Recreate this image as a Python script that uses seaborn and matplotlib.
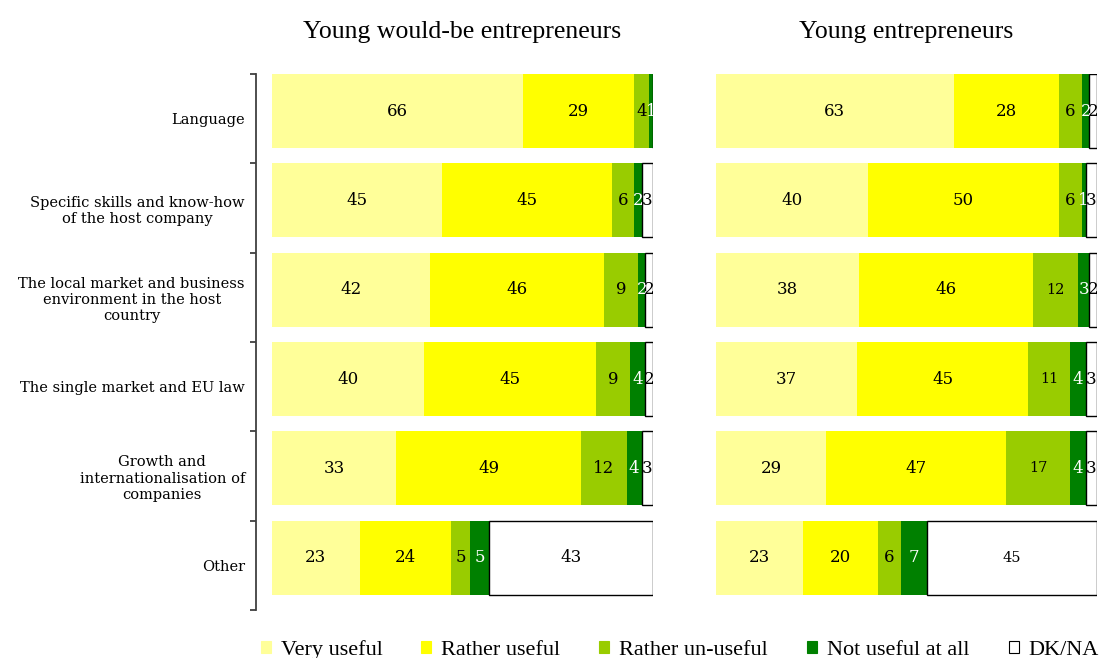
import matplotlib
matplotlib.use("Agg")
import matplotlib.pyplot as plt
from matplotlib.patches import Patch
import seaborn as sns
import numpy as np

categories = [
    "Language",
    "Specific skills and know-how\nof the host company",
    "The local market and business\nenvironment in the host\ncountry",
    "The single market and EU law",
    "Growth and\ninternationalisation of\ncompanies",
    "Other",
]
levels = ["Very useful", "Rather useful", "Rather un-useful", "Not useful at all", "DK/NA"]
colors = ["#FFFF99", "#FFFF00", "#99CC00", "#008000", "#FFFFFF"]

panel_titles = ["Young would-be entrepreneurs", "Young entrepreneurs"]

# values per level, categories in order above
would_be_very = [66, 45, 42, 40, 33, 23]
would_be_rather = [29, 45, 46, 45, 49, 24]
would_be_unuseful = [4, 6, 9, 9, 12, 5]
would_be_notuseful = [1, 2, 2, 4, 4, 5]
would_be_dk = [0, 3, 2, 2, 3, 43]

entre_very = [63, 40, 38, 37, 29, 23]
entre_rather = [28, 50, 46, 45, 47, 20]
entre_unuseful = [6, 6, 12, 11, 17, 6]
entre_notuseful = [2, 1, 3, 4, 4, 7]
entre_dk = [2, 3, 2, 3, 3, 45]

panels = [
    [would_be_very, would_be_rather, would_be_unuseful, would_be_notuseful, would_be_dk],
    [entre_very, entre_rather, entre_unuseful, entre_notuseful, entre_dk],
]

sns.set_style("white")
plt.rcParams["font.family"] = ["DejaVu Serif"]
plt.rcParams["text.color"] = "black"
plt.rcParams["ytick.color"] = "black"
plt.rcParams["ytick.labelcolor"] = "black"

fig = plt.figure(figsize=(11, 6.58), dpi=100)
ax_w = 381 / 1100
ax_b = 1 - 610 / 658
ax_h = (610 - 74) / 658
axes = [fig.add_axes([272 / 1100, ax_b, ax_w, ax_h]),
        fig.add_axes([716 / 1100, ax_b, ax_w, ax_h])]

bar_h = 0.83
top_off = bar_h / 2

for p, (ax, series, title) in enumerate(zip(axes, panels, panel_titles)):
    arr = np.array(series, dtype=float)
    shares = arr / arr.sum(axis=0) * 100  # bars are drawn as shares of each row total
    lefts = np.vstack([np.zeros(arr.shape[1]), np.cumsum(shares, axis=0)[:-1]])
    for k in range(len(levels)):
        is_dk = k == len(levels) - 1
        sns.barplot(x=list(shares[k]), y=categories, order=categories, orient="h",
                    left=list(lefts[k]), color=colors[k], saturation=1,
                    width=bar_h, ax=ax,
                    edgecolor="black" if is_dk else "none",
                    linewidth=1.0 if is_dk else 0)
        for i, v in enumerate(arr[k]):
            if v <= 0:
                continue
            small = p == 1 and k >= 2 and v >= 10
            ax.text(lefts[k][i] + shares[k][i] / 2, i, f"{int(v)}", ha="center",
                    va="center", fontsize=10.5 if small else 12,
                    color="white" if k == 3 else "black",
                    family=["DejaVu Serif"])
    ax.set_xlim(0, 100)
    ax.set_ylim(len(categories) - top_off, -top_off)
    ax.set_xlabel("")
    ax.set_ylabel("")
    ax.set_xticks([])
    ax.text(0.5, 1 + 42 / 536, title, transform=ax.transAxes, ha="center",
            va="center", fontsize=18.5, family=["Liberation Serif"])
    for s in ["top", "right", "bottom"]:
        ax.spines[s].set_visible(False)

# left panel axis
ax = axes[0]
ax.spines["left"].set_position(("outward", 16 * 72 / 100))
ax.spines["left"].set_color("#404040")
ax.spines["left"].set_linewidth(1.3)
band_centers = np.arange(len(categories)) - top_off + 0.5
ax.set_yticks(band_centers)
ax.set_yticklabels(categories, fontsize=10.5, ha="right", multialignment="center")
ax.set_yticks(np.arange(len(categories) + 1) - top_off, minor=True)
ax.tick_params(axis="y", which="major", length=0, pad=8)
ax.tick_params(axis="y", which="minor", length=4, width=1.3, color="#404040",
               direction="out", left=True)

ax = axes[1]
ax.spines["left"].set_visible(False)
ax.set_yticks([])

handles = [Patch(facecolor=c, edgecolor=("black" if i == 4 else c), linewidth=0.8)
           for i, c in enumerate(colors)]
fig.legend(handles, levels, loc="center", bbox_to_anchor=(0.618, 1 - 650 / 658),
           ncol=5, frameon=False, handlelength=0.45, handleheight=0.45,
           handletextpad=0.45, columnspacing=1.75,
           prop={"family": "Liberation Serif", "size": 16})

fig.savefig("out.png", dpi=100)
